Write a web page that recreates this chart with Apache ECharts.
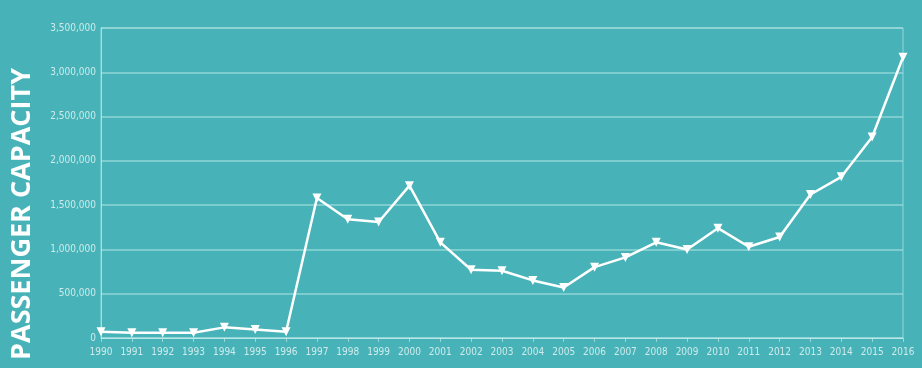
<!DOCTYPE html>
<html>
<head>
<meta charset="utf-8">
<script src="https://cdn.jsdelivr.net/npm/echarts@6/dist/echarts.min.js"></script>
<style>
html,body{margin:0;padding:0;background:#47b3b8;}
#c{width:922px;height:368px;}
</style>
</head>
<body>
<div id="c"></div>
<script>
const years = ['1990','1991','1992','1993','1994','1995','1996','1997','1998','1999','2000','2001','2002','2003','2004','2005','2006','2007','2008','2009','2010','2011','2012','2013','2014','2015','2016'];
const capacity = [70000,60000,60000,60000,120000,95000,70000,1580000,1340000,1310000,1720000,1080000,770000,760000,650000,570000,800000,910000,1080000,1000000,1240000,1030000,1140000,1620000,1820000,2270000,3170000];
const yTicks = [0,500000,1000000,1500000,2000000,2500000,3000000,3500000];
const titleText = 'PASSENGER CAPACITY';

const chart = echarts.init(document.getElementById('c'));
const labelFont = "'Liberation Sans Narrow','DejaVu Sans Condensed',sans-serif";
chart.setOption({
  backgroundColor: '#47b3b8',
  animation: false,
  graphic: [{
    type: 'text',
    left: 9, top: 68,
    rotation: Math.PI/2,
    originX: 0, originY: 0,
    style: {
      text: titleText,
      fill: '#ffffff',
      font: "bold 27px 'Open Sans', sans-serif",
      x: 0, y: 0,
      textAlign: 'right',
      textVerticalAlign: 'top'
    }
  }],
  grid: {left: 101, right: 19, top: 28, bottom: 30, show: true, borderColor: 'rgba(200,240,240,0.6)', borderWidth: 1},
  xAxis: {
    type: 'category',
    data: years,
    boundaryGap: false,
    axisLine: {show: true, lineStyle: {color: 'rgba(200,240,240,0.7)', width: 1}},
    axisTick: {show: true, alignWithLabel: true, length: 4, lineStyle: {color: 'rgba(200,240,240,0.6)'}},
    axisLabel: {color: '#cdebeb', fontSize: 10, fontFamily: labelFont, margin: 9, interval: 0},
    splitLine: {show: false}
  },
  yAxis: {
    type: 'value',
    min: yTicks[0], max: yTicks[yTicks.length-1], interval: 500000,
    axisLine: {show: true, lineStyle: {color: 'rgba(200,240,240,0.6)'}},
    axisTick: {show: false},
    axisLabel: {color: '#cdebeb', fontSize: 10, fontFamily: labelFont, margin: 5,
      formatter: v => v.toLocaleString('en-US')},
    splitLine: {show: true, lineStyle: {color: 'rgba(175,230,230,0.7)', width: 1.5}}
  },
  series: [{
    type: 'line',
    data: capacity,
    symbol: 'triangle',
    symbolRotate: 180,
    symbolSize: 9,
    showAllSymbol: true,
    lineStyle: {color: '#ffffff', width: 2.5},
    itemStyle: {color: '#ffffff'}
  }]
});
</script>
</body>
</html>
